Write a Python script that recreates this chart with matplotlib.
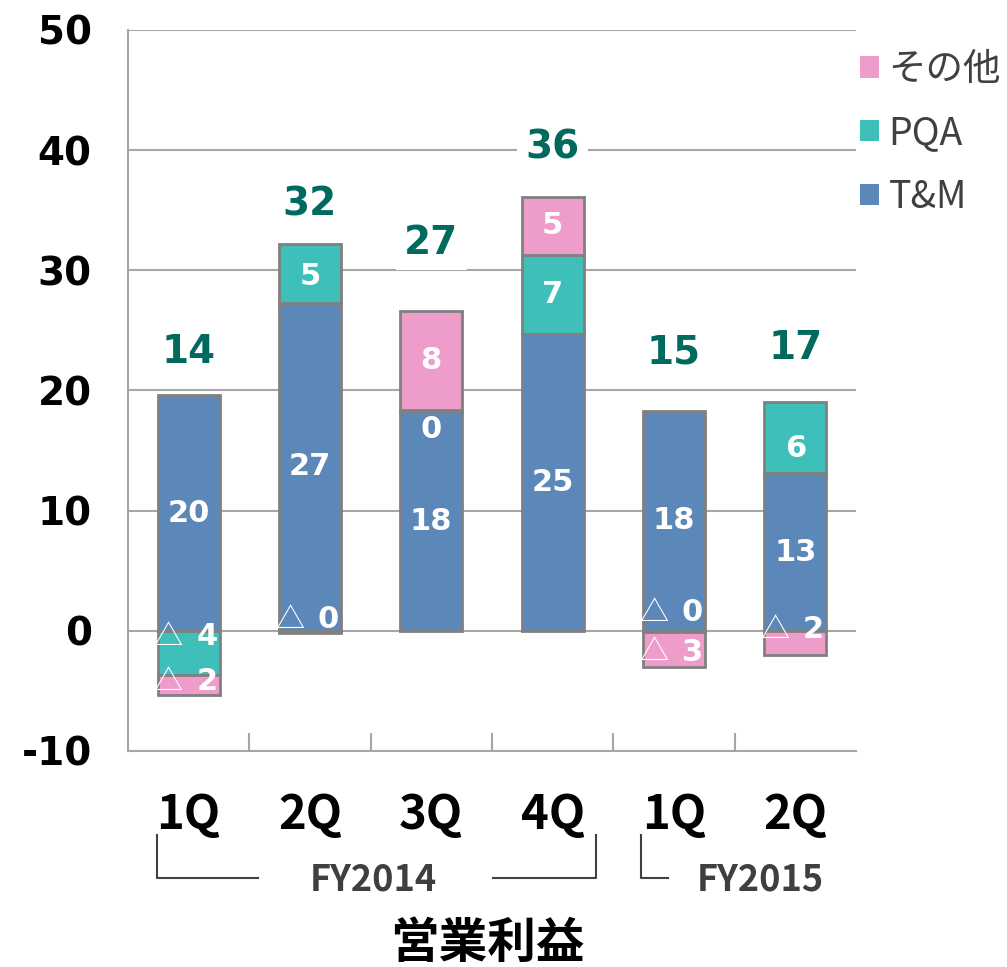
import matplotlib.pyplot as plt
from matplotlib.transforms import blended_transform_factory
from matplotlib.lines import Line2D
from matplotlib.patches import Patch

plt.rcParams['axes.unicode_minus'] = False

# --- data ---
quarters = ["1Q", "2Q", "3Q", "4Q", "1Q", "2Q"]
tm = [19.6, 27.3, 18.2, 24.7, 18.3, 13.1]
pqa = [-3.7, 4.9, 0.2, 6.6, -0.1, 5.9]
other = [-1.65, -0.2, 8.2, 4.8, -2.9, -2.0]
totals = [14, 32, 27, 36, 15, 17]
fy_groups = ["FY2014", "FY2015"]

# --- style ---
C_TM = "#5b88b9"
C_PQA = "#3fbfb9"
C_OTH = "#ee9cc9"
EDGE = "#808080"
GRID = "#a6a6a6"
TOTAL_C = "#006a5f"
CJK = ["Noto Sans CJK JP", "DejaVu Sans"]

# lift of the total label above each bar, and nudges for some segment labels
label_lift = [3.6, 3.3, 5.7, 4.1, 4.9, 4.5]
nudge = {(1, 0): 1.35, (2, 0): 0.3, (2, 1): 1.0, (1, 1): -0.25,
         (1, 2): -1.55, (1, 4): 1.55, (2, 4): -0.25, (2, 5): 1.1,
         (1, 5): -0.9}

fig = plt.figure(figsize=(10.07, 9.67), dpi=100)
ax = fig.add_axes([0.127, 0.2234, 0.723, 0.7456])

x = list(range(len(quarters)))
w = 0.51
series = [("T&M", tm, C_TM), ("PQA", pqa, C_PQA), ("その他", other, C_OTH)]

pos_base = [0.0] * len(x)
neg_base = [0.0] * len(x)
for si, (name, vals, col) in enumerate(series):
    bottoms = []
    for i, v in enumerate(vals):
        if v >= 0:
            bottoms.append(pos_base[i])
            pos_base[i] += v
        else:
            bottoms.append(neg_base[i])
            neg_base[i] += v
    ax.bar(x, vals, w, bottom=bottoms, color=col, edgecolor=EDGE,
           linewidth=2, zorder=3)
    for i, v in enumerate(vals):
        yc = bottoms[i] + v / 2 + nudge.get((si, i), 0)
        n = str(int(round(abs(v))))
        if v < 0:
            ax.text(x[i] - 0.17, yc, "△", color="white", fontsize=21,
                    family=CJK, ha="center", va="center", zorder=5)
            ax.text(x[i] + 0.15, yc, n, color="white", fontsize=22,
                    fontweight="bold", ha="center", va="center", zorder=5)
        else:
            ax.text(x[i], yc, n, color="white", fontsize=22,
                    fontweight="bold", ha="center", va="center", zorder=5)

for i, t in enumerate(totals):
    ax.text(x[i], pos_base[i] + label_lift[i], str(t), color=TOTAL_C,
            fontsize=28, fontweight="bold", ha="center", va="center",
            zorder=6, bbox=dict(facecolor="white", edgecolor="none", pad=6))

ax.set_xlim(-0.5, 5.5)
ax.set_ylim(-10, 50)
ax.set_yticks(range(-10, 51, 10))
ax.grid(axis="y", color=GRID, linewidth=1.5, zorder=0)
ax.set_axisbelow(True)
for s in ["top", "right"]:
    ax.spines[s].set_visible(False)
for s in ["left", "bottom"]:
    ax.spines[s].set_color(GRID)
    ax.spines[s].set_linewidth(1.5)

ax.tick_params(axis="y", length=0, pad=26, labelsize=28)
for lab in ax.get_yticklabels():
    lab.set_fontweight("bold")

ax.set_xticks(x)
ax.set_xticklabels(quarters, fontsize=34, fontweight="bold", family=CJK)
ax.set_xticks([i + 0.5 for i in x[:-1]], minor=True)
ax.tick_params(axis="x", which="major", length=0, pad=29)
ax.tick_params(axis="x", which="minor", direction="in", length=13,
               color=GRID, width=1.5)

# fiscal year brackets
tr = blended_transform_factory(ax.transData, fig.transFigure)
yb_top, yb_bot = 0.1365, 0.092
bracket_lines = [
    ([-0.26, -0.26, 0.57], [yb_top, yb_bot, yb_bot]),
    ([2.51, 3.36, 3.36], [yb_bot, yb_bot, yb_top]),
    ([3.73, 3.73, 3.95], [yb_top, yb_bot, yb_bot]),
]
for xs, ys in bracket_lines:
    fig.add_artist(Line2D(xs, ys, transform=tr, color="#404040", linewidth=1.5))
for xc, lab in zip([1.52, 4.71], fy_groups):
    fig.text(xc, 0.09, lab, transform=tr, ha="center", va="center",
             fontsize=26, fontweight="bold", color="#3f3f3f", family=CJK)

fig.text(0.484, 0.024, "営業利益", ha="center", va="center", fontsize=35,
         fontweight="bold", family=CJK)

# legend
handles = [Patch(facecolor=c, edgecolor="none") for _, _, c in series][::-1]
labels = [n for n, _, _ in series][::-1]
leg = ax.legend(handles, labels, loc="upper left", bbox_to_anchor=(1.006, 0.972),
                frameon=False, handlelength=0.5, handleheight=0.5,
                handletextpad=0.25, labelspacing=0.66, borderaxespad=0,
                borderpad=0, prop={"family": CJK, "size": 27})
for t in leg.get_texts():
    t.set_color("#404040")

fig.savefig("out.png", dpi=100)
